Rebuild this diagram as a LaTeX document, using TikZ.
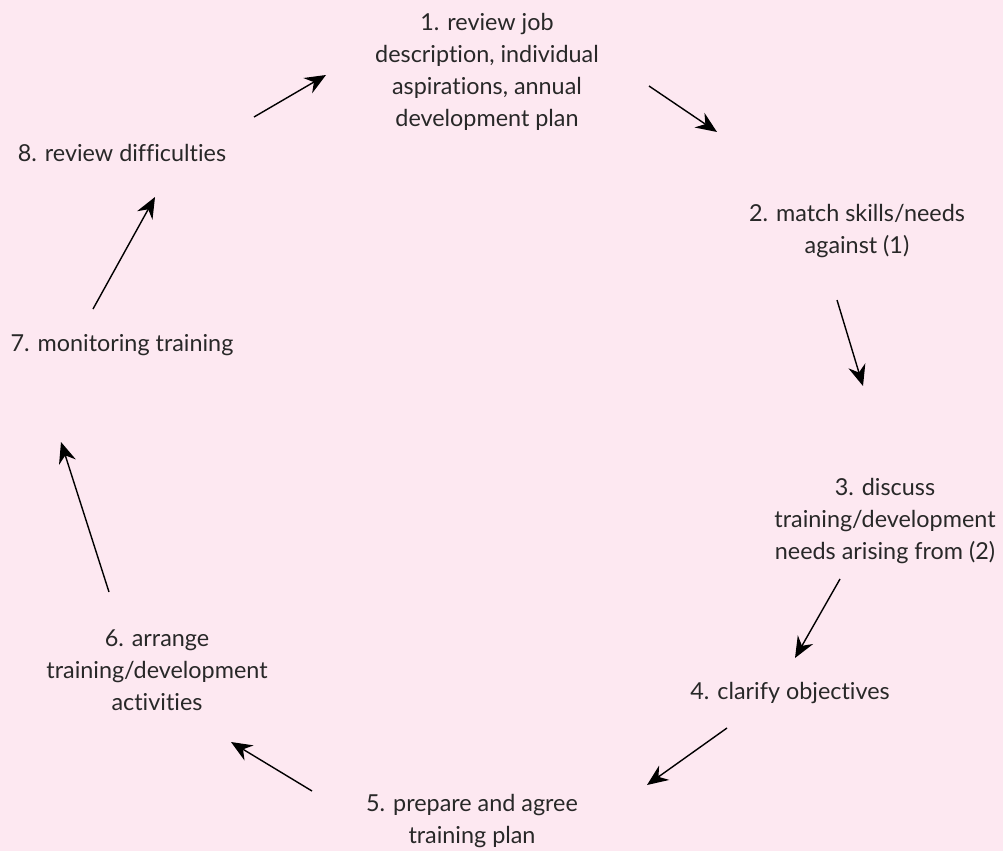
\documentclass[tikz,border=0pt]{standalone}
\usepackage{fontspec}
\setmainfont{Lato}[Ligatures=NoCommon]
\usepackage{xcolor}
\usetikzlibrary{arrows.meta}
\definecolor{bgpink}{RGB}{253,232,241}
\definecolor{txtgray}{RGB}{40,40,40}

\begin{document}
\begin{tikzpicture}[x=0.02cm, y=-0.02cm,
    stage/.style={align=center, text=txtgray, font=\fontsize{13.3}{18.2}\selectfont, inner sep=0pt},
    flow/.style={-{Stealth[length=12pt,width=10pt,inset=4pt]}, line width=0.8pt}]
        \fill[bgpink] (0,0) rectangle (1003,851);
        \useasboundingbox (0,0) rectangle (1003,851);

        \node[stage] (n1) at (487,72) {1. review job\\description, individual\\aspirations, annual\\development plan};
        \node[stage] (n2) at (857,231) {2. match skills/needs\\against (1)};
        \node[stage] (n3) at (885,521) {3. discuss\\training/development\\needs arising from (2)};
        \node[stage] (n4) at (790,693) {4. clarify objectives};
        \node[stage] (n5) at (472,821) {5. prepare and agree\\training plan};
        \node[stage] (n6) at (157,670) {6. arrange\\training/development\\activities};
        \node[stage] (n7) at (122,345) {7. monitoring training};
        \node[stage] (n8) at (122,153) {8. review difficulties};

        % arrow ends
        \coordinate (a81) at (254,117); \coordinate (b81) at (326,75);
        \coordinate (a12) at (649,86);  \coordinate (b12) at (717,132);
        \coordinate (a23) at (837,300); \coordinate (b23) at (863,386);
        \coordinate (a34) at (840,579); \coordinate (b34) at (795,658);
        \coordinate (a45) at (727,728); \coordinate (b45) at (647,785);
        \coordinate (a56) at (312,791); \coordinate (b56) at (231,742);
        \coordinate (a67) at (109,592); \coordinate (b67) at (61,442);
        \coordinate (a78) at (93,309);  \coordinate (b78) at (155,197);

        \draw[flow] (a81) -- (b81);
        \draw[flow] (a12) -- (b12);
        \draw[flow] (a23) -- (b23);
        \draw[flow] (a34) -- (b34);
        \draw[flow] (a45) -- (b45);
        \draw[flow] (a56) -- (b56);
        \draw[flow] (a67) -- (b67);
        \draw[flow] (a78) -- (b78);
\end{tikzpicture}
\end{document}
